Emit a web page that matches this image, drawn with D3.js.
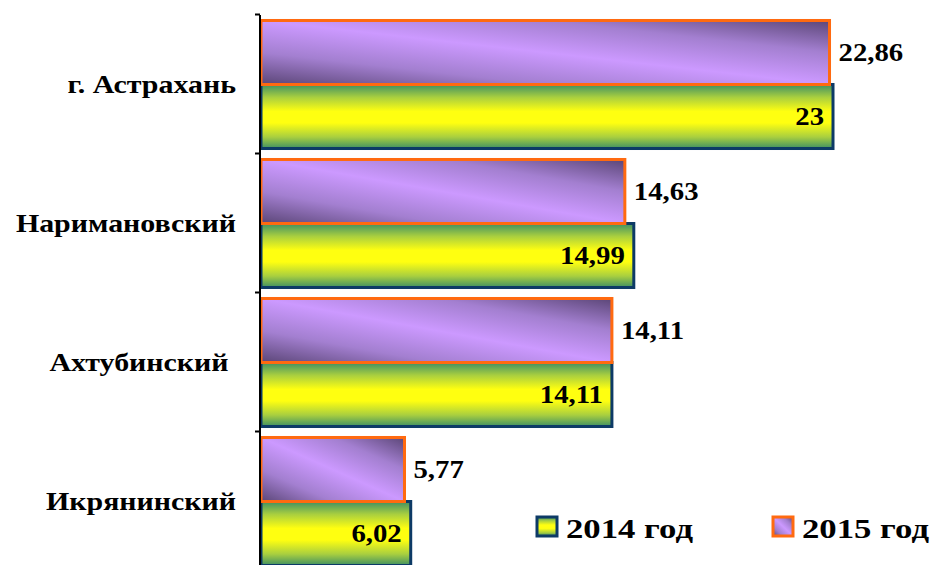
<!DOCTYPE html>
<html><head><meta charset="utf-8">
<script src="https://cdn.jsdelivr.net/npm/d3@7"></script>
<style>html,body{margin:0;padding:0;background:#fff;overflow:hidden}</style>
</head><body>
<svg id="chart" width="931" height="565"></svg>
<script>
const categories = ["г. Астрахань", "Наримановский", "Ахтубинский ", "Икрянинский"];
const seriesNames = ["2015 год", "2014 год"];
const values2015 = [22.86, 14.63, 14.11, 5.77];
const values2014 = [23, 14.99, 14.11, 6.02];
const labels2015 = ["22,86", "14,63", "14,11", "5,77"];
const labels2014 = ["23", "14,99", "14,11", "6,02"];

const svg = d3.select("#chart");
const defs = svg.append("defs");

const gy = defs.append("linearGradient").attr("id","gYellow")
  .attr("x1",0).attr("y1",0).attr("x2",0).attr("y2",1);
[[0,"#3f8f63"],[0.2,"#a9cf3f"],[0.42,"#ffff10"],[0.6,"#ffff10"],[0.82,"#a9cf3f"],[1,"#3f8f63"]]
  .forEach(([o,c])=>gy.append("stop").attr("offset",o).attr("stop-color",c));

const gp = defs.append("linearGradient").attr("id","gPurple")
  .attr("x1",0).attr("y1",1).attr("x2",1).attr("y2",0);
[[0,"#5b4677"],[0.25,"#a37fd0"],[0.5,"#cc99ff"],[0.75,"#a37fd0"],[1,"#5b4677"]]
  .forEach(([o,c])=>gp.append("stop").attr("offset",o).attr("stop-color",c));

const x = d3.scaleLinear().domain([0, 23]).range([261, 833]);
const y = d3.scaleBand().domain(categories).range([15, 571]).paddingInner(0.079).paddingOuter(0.0395);
const ys = d3.scaleBand().domain(seriesNames).range([0, y.bandwidth()]);

const font = "'Liberation Serif','Times New Roman',serif";

function stretch(sel, k) {
  sel.each(function() {
    const w = this.getComputedTextLength();
    d3.select(this).attr("textLength", w * k).attr("lengthAdjust", "spacingAndGlyphs");
  });
}

// axis ticks
const ag = svg.append("g").attr("transform","translate(260,0)");
const tickYs = categories.map(c => y(c) - y.step()*y.paddingInner()/2 - 0.5);
ag.selectAll("line.t").data(tickYs).enter().append("line").attr("class","t")
  .attr("x1",-5).attr("x2",0).attr("y1",d=>d).attr("y2",d=>d)
  .attr("stroke","#000").attr("stroke-width",2);

// category labels
svg.selectAll("text.cat").data(categories).enter().append("text")
  .attr("class","cat")
  .attr("x",236).attr("y",d=>y(d)+y.bandwidth()/2)
  .attr("text-anchor","end").attr("dominant-baseline","central")
  .style("white-space","pre")
  .attr("font-family",font).attr("font-weight","bold").attr("font-size",26)
  .text(d=>d).call(stretch, 1.15);

// 2014 bars (bottom)
svg.selectAll("rect.b14").data(values2014).enter().append("rect").attr("class","b14")
  .attr("x",x(0)).attr("y",(d,i)=>y(categories[i])+ys("2014 год"))
  .attr("width",d=>x(d)-x(0)).attr("height",ys.bandwidth())
  .attr("fill","url(#gYellow)").attr("stroke","#0d3a66").attr("stroke-width",3);

// 2015 bars (top)
svg.selectAll("rect.b15").data(values2015).enter().append("rect").attr("class","b15")
  .attr("x",x(0)).attr("y",(d,i)=>y(categories[i])+ys("2015 год"))
  .attr("width",d=>x(d)-x(0)).attr("height",ys.bandwidth())
  .attr("fill","url(#gPurple)").attr("stroke","#ff6a10").attr("stroke-width",3);

// axis line on top
svg.append("line").attr("x1",260).attr("x2",260).attr("y1",15).attr("y2",571)
  .attr("stroke","#000").attr("stroke-width",2);

// value labels
svg.selectAll("text.l15").data(values2015).enter().append("text").attr("class","l15")
  .attr("x",d=>x(d)+9).attr("y",(d,i)=>y(categories[i])+ys("2015 год")+ys.bandwidth()/2)
  .attr("dominant-baseline","central")
  .attr("font-family",font).attr("font-weight","bold").attr("font-size",25)
  .text((d,i)=>labels2015[i]).call(stretch, 1.15);
svg.selectAll("text.l14").data(values2014).enter().append("text").attr("class","l14")
  .attr("x",d=>x(d)-9).attr("y",(d,i)=>y(categories[i])+ys("2014 год")+ys.bandwidth()/2)
  .attr("text-anchor","end").attr("dominant-baseline","central")
  .attr("font-family",font).attr("font-weight","bold").attr("font-size",25)
  .text((d,i)=>labels2014[i]).call(stretch, 1.15);

// legend
const legend = [
  {name:"2014 год", fill:"url(#gYellow)", stroke:"#0d3a66", x:537},
  {name:"2015 год", fill:"url(#gPurple)", stroke:"#ff6a10", x:773}
];
const lg = svg.selectAll("g.leg").data(legend).enter().append("g").attr("class","leg")
  .attr("transform",d=>`translate(${d.x},517)`);
lg.append("rect").attr("width",20).attr("height",19)
  .attr("fill",d=>d.fill).attr("stroke",d=>d.stroke).attr("stroke-width",3);
lg.append("text").attr("x",29).attr("y",11).attr("dominant-baseline","central")
  .attr("font-family",font).attr("font-weight","bold").attr("font-size",28)
  .text(d=>d.name).call(stretch, 1.24);
</script>
</body></html>
